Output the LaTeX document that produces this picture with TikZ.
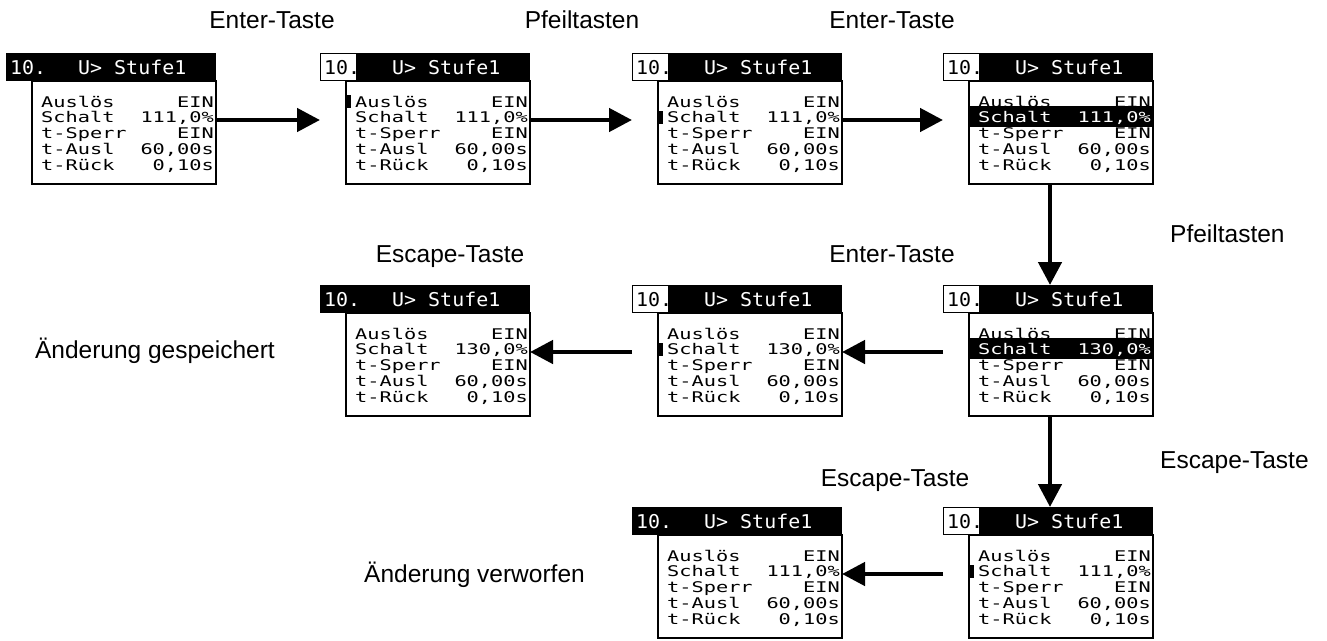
\documentclass[tikz,border=0pt]{standalone}
\usepackage{fontspec}
\setmainfont{Liberation Sans}
\newfontfamily\lcdhead[FakeStretch=1.05]{DejaVu Sans Mono}
\newfontfamily\lcdbody[FakeStretch=1.38]{DejaVu Sans Mono}
\usetikzlibrary{arrows.meta}
\newcommand{\scrW}{210}
\newcommand{\scrH}{131}
\newcommand{\hdrH}{28}
\newcommand{\bodyIn}{26}
\newcommand{\linePitch}{15.8}
\tikzset{
  hdrbar/.style ={fill=black},
  numbox/.style ={fill=white,draw=black,line width=1pt},
  bodybox/.style={fill=white,draw=black,line width=1.6pt},
  hdrtxt/.style ={inner sep=0pt,anchor=base west,font=\lcdhead\fontsize{19}{19}\selectfont},
  bodytxt/.style={inner sep=0pt,font=\lcdbody\fontsize{14.7}{15}\selectfont},
  lft/.style    ={bodytxt,anchor=base west},
  rgt/.style    ={bodytxt,anchor=base east},
  curbar/.style ={fill=black},
  invbar/.style ={fill=black},
  keyarr/.style ={line width=4.6pt,-{Triangle[length=23pt,width=23pt]}},
  keylbl/.style ={inner sep=0pt,anchor=base,font=\fontsize{24.5}{28}\selectfont},
  notelbl/.style={keylbl,anchor=base east},
}
% #1 name, #2 x, #3 y, #4 number field selected (0/1),
% #5 mark (0 none, 1 cursor line 1, 2 cursor line 2, 3 line 2 inverted), #6 value of line 2
\newcommand{\lcdscreen}[6]{%
  \pgfmathsetmacro{\bxl}{#2+\bodyIn}%
  \pgfmathsetmacro{\bxr}{#2+\scrW}%
  \pgfmathsetmacro{\byt}{#3+\hdrH}%
  \pgfmathsetmacro{\byb}{#3+\scrH}%
  \draw[bodybox] (\bxl,\byt) rectangle (\bxr,\byb);
  \fill[hdrbar] (#2,#3) rectangle (\bxr,\byt);
  \ifnum#4=1 \def\numcol{black}\filldraw[numbox] (#2+0.5,#3+0.5) rectangle (#2+36,\byt-0.5);
  \else \def\numcol{white}\fi
  \node[hdrtxt,text=\numcol] (#1num) at (#2+4,#3+21) {10.};
  \node[hdrtxt,text=white] (#1ttl) at (#2+72,#3+21) {U> Stufe1};
  \ifnum#5=3 \fill[invbar] (\bxl,#3+53) rectangle (\bxr,#3+74); \fi
  \ifnum#5=1 \fill[curbar] (\bxl+0.5,#3+42) rectangle (\bxl+5,#3+55); \fi
  \ifnum#5=2 \fill[curbar] (\bxl+0.5,#3+57.8) rectangle (\bxl+5,#3+70.8); \fi
  \foreach \lab/\val [count=\i from 0] in {Auslös/EIN, Schalt/{#6}, t-Sperr/EIN, t-Ausl/{60,00s}, t-Rück/{0,10s}}{
    \def\lcol{black}%
    \ifnum\i=1 \ifnum#5=3 \def\lcol{white}\fi\fi
    \node[lft,text=\lcol] (#1l\i) at (#2+35,#3+54+\i*\linePitch) {\lab};
    \node[rgt,text=\lcol] (#1v\i) at (\bxr-2,#3+54+\i*\linePitch) {\val};
  }
  \coordinate (#1i) at (#2,#3+67);
  \coordinate (#1o) at (\bxr,#3+67);
  \coordinate (#1t) at (#2+107,#3);
  \coordinate (#1b) at (#2+107,\byb);
}

\begin{document}
\begin{tikzpicture}[x=1pt,y=-1pt]
  \useasboundingbox (0,0) rectangle (1327,640);
  % top row
  \lcdscreen{Sa}{6}{53}{0}{0}{111,0\%}
  \lcdscreen{Sb}{320}{53}{1}{1}{111,0\%}
  \lcdscreen{Sc}{632}{53}{1}{2}{111,0\%}
  \lcdscreen{Sd}{943}{53}{1}{3}{111,0\%}
  % middle row
  \lcdscreen{Se}{943}{285}{1}{3}{130,0\%}
  \lcdscreen{Sf}{632}{285}{1}{2}{130,0\%}
  \lcdscreen{Sg}{320}{285}{0}{0}{130,0\%}
  % bottom row
  \lcdscreen{Sh}{943}{507}{1}{2}{111,0\%}
  \lcdscreen{Si}{632}{507}{0}{0}{111,0\%}
  % key presses
  \draw[keyarr] (Sao) -- (Sbi);
  \draw[keyarr] (Sbo) -- (Sci);
  \draw[keyarr] (Sco) -- (Sdi);
  \draw[keyarr] (Sdb) -- (Set);
  \draw[keyarr] (Sei) -- (Sfo);
  \draw[keyarr] (Sfi) -- (Sgo);
  \draw[keyarr] (Seb) -- (Sht);
  \draw[keyarr] (Shi) -- (Sio);
  \node[keylbl] (kA) at (272,28) {Enter-Taste};
  \node[keylbl] (kB) at (582,28) {Pfeiltasten};
  \node[keylbl] (kC) at (892,28) {Enter-Taste};
  \node[keylbl,anchor=base west] (kD) at (1170,242) {Pfeiltasten};
  \node[keylbl] (kE) at (892,262) {Enter-Taste};
  \node[keylbl] (kF) at (450,262) {Escape-Taste};
  \node[keylbl,anchor=base west] (kG) at (1160,468) {Escape-Taste};
  \node[keylbl] (kH) at (895,486) {Escape-Taste};
  \node[notelbl] (nA) at (275,358) {Änderung gespeichert};
  \node[notelbl] (nB) at (585,582) {Änderung verworfen};
\end{tikzpicture}
\end{document}
